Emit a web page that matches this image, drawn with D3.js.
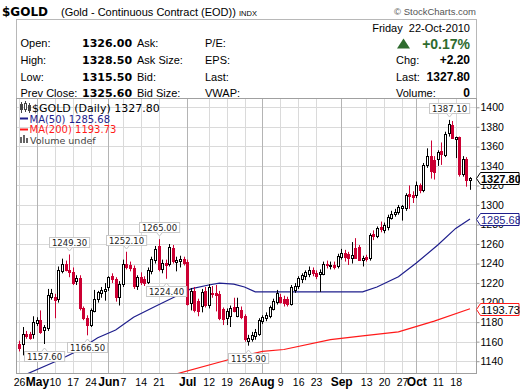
<!DOCTYPE html>
<html>
<head>
<meta charset="utf-8">
<script src="https://cdn.jsdelivr.net/npm/d3@7"></script>
<style>
  body { margin: 0; background: #fff; }
  svg { display: block; }
</style>
</head>
<body>
<svg id="chart" width="520" height="391"></svg>
<script>
// ---- data: $GOLD daily, 26-Apr-2010 .. 22-Oct-2010 ----
const firstDay = '2010-04-26', lastDay = '2010-10-22';
const holidays = ['2010-05-31', '2010-07-05', '2010-09-06'];

const open = [
  1158, 1158, 1168, 1168, 1168, 1179, 1182, 1172, 1174, 1206,
  1206, 1203, 1233, 1240, 1233, 1231, 1222, 1225, 1194, 1184,
  1177, 1192, 1204, 1210, 1212, 1216, 1227, 1224, 1206, 1220,
  1240, 1238, 1235, 1217, 1226, 1224, 1221, 1233, 1244, 1258,
  1235, 1240.5, 1240, 1256, 1242, 1243, 1245, 1242, 1200, 1212,
  1202, 1197, 1212, 1198, 1210, 1210, 1209, 1193, 1184, 1186,
  1196, 1187, 1192, 1186, 1161, 1163, 1166, 1168, 1181, 1184,
  1186, 1194, 1201, 1206, 1204, 1204, 1199, 1213, 1217, 1224,
  1227, 1229, 1233, 1230, 1229, 1230, 1240, 1238, 1239, 1238,
  1247, 1251, 1250, 1246, 1256, 1257, 1244, 1247, 1245, 1270,
  1269, 1277, 1274, 1278, 1287, 1291, 1293, 1296.5, 1297, 1311,
  1310, 1310, 1320, 1315, 1341, 1350, 1346, 1347, 1355, 1351,
  1373, 1382, 1368, 1369.8, 1332, 1347, 1326
];
const high = [
  1161, 1175, 1171, 1170, 1186, 1185, 1192, 1177, 1214, 1214,
  1209, 1237, 1245, 1243, 1249.3, 1236, 1228, 1228, 1196, 1187,
  1194, 1213, 1212, 1216, 1220, 1227, 1230, 1226, 1222, 1244,
  1252.1, 1242, 1238, 1228, 1231, 1227, 1236, 1247, 1258, 1265,
  1244, 1244, 1260, 1259, 1247, 1248, 1247, 1244, 1215, 1216,
  1204, 1214, 1216, 1219, 1217, 1218, 1212, 1195, 1194, 1197,
  1205, 1205, 1196, 1188, 1167, 1170, 1173, 1184, 1187, 1190,
  1197, 1204, 1213, 1209, 1207, 1206, 1218, 1220, 1227, 1230,
  1233, 1237, 1236, 1233, 1234, 1242, 1243, 1242, 1242, 1250,
  1255, 1254, 1252, 1262, 1266, 1259, 1248, 1249, 1271, 1274,
  1278, 1283, 1282, 1290, 1294, 1296, 1300, 1300, 1312, 1320,
  1314, 1324, 1322, 1343, 1358, 1366, 1350, 1356, 1364, 1375,
  1387.1, 1386, 1370, 1370, 1350, 1349, 1328.5
];
const low = [
  1150, 1146, 1163, 1162, 1163, 1176, 1168, 1157.6, 1171, 1203,
  1184, 1200, 1230, 1232, 1226, 1218, 1218, 1192, 1182, 1166.5,
  1175, 1190, 1200, 1205, 1202, 1212, 1220, 1201, 1197, 1216,
  1234, 1232, 1214, 1213, 1218, 1217, 1219, 1229, 1240, 1232,
  1230, 1224.4, 1237, 1240, 1232, 1236, 1238, 1197, 1192, 1190,
  1186, 1190, 1195, 1194, 1205, 1191, 1182, 1177, 1177, 1175,
  1190, 1185, 1183, 1160, 1155.9, 1160, 1162, 1166, 1178, 1181,
  1184, 1192, 1198, 1199, 1196, 1196, 1197, 1210, 1214, 1220,
  1223, 1226, 1227, 1224, 1211, 1228, 1235, 1234, 1234, 1235,
  1244, 1242, 1238.5, 1240, 1245, 1243, 1237, 1242, 1243, 1264,
  1266, 1272, 1271, 1274, 1285, 1288, 1290, 1284, 1294, 1296,
  1302, 1307, 1312, 1313, 1338, 1327, 1326, 1340, 1341, 1349,
  1370, 1368, 1348, 1329, 1329, 1318.7, 1315.5
];
const close = [
  1154, 1168, 1166, 1164, 1180, 1182, 1170, 1175, 1208, 1210,
  1203, 1233, 1240, 1234, 1231, 1220, 1225, 1194, 1184, 1177,
  1192, 1204, 1211, 1213, 1214, 1226, 1224, 1206, 1219, 1240,
  1237, 1235, 1217, 1226, 1221, 1220, 1233, 1245, 1255, 1234,
  1241, 1238.5, 1257, 1243, 1244, 1245, 1241, 1199, 1212, 1193,
  1192, 1211, 1198, 1216, 1209, 1208, 1184, 1183, 1191, 1194,
  1192, 1196, 1185, 1162, 1164, 1167, 1170, 1182, 1185, 1187,
  1195, 1202, 1210, 1201, 1200, 1198.6, 1216, 1217, 1225, 1228,
  1231, 1233, 1230, 1227, 1231, 1240, 1238.5, 1239, 1237, 1248,
  1251, 1247, 1246, 1249, 1246, 1244, 1246, 1245, 1269, 1268,
  1276.7, 1275, 1279, 1288, 1291, 1293, 1298, 1298.5, 1310, 1309,
  1308, 1320, 1315, 1341, 1350, 1335, 1334, 1354, 1352, 1373,
  1382.5, 1369, 1370, 1332.3, 1347, 1325.6, 1327.8
];

// moving averages, read at sample days (day index into the series)
const ma50Day = [1, 11, 16, 22, 27, 32, 38, 43, 48, 53, 56, 60, 63, 66, 96, 100, 106, 111, 117, 122, 126];
const ma50 = [1125, 1141, 1150, 1164, 1172, 1185, 1196, 1205, 1214, 1218, 1220, 1219, 1216, 1211, 1211, 1216, 1226.5, 1240.5, 1259, 1276, 1285.68];
const ma200Day = [44, 60, 68, 74, 87, 96, 106, 116, 126];
const ma200 = [1127, 1143, 1150, 1152, 1162, 1166, 1170, 1181, 1193.73];

// swing high / low call-outs
const noteDay = [7, 14, 19, 30, 39, 41, 64, 120];
const noteKind = ['L', 'H', 'L', 'H', 'H', 'L', 'L', 'H'];

// x axis ticks
const tickDates = ['2010-04-26', '2010-05-03', '2010-05-10', '2010-05-17', '2010-05-24', '2010-06-01', '2010-06-07',
  '2010-06-14', '2010-06-21', '2010-07-01', '2010-07-12', '2010-07-19', '2010-07-26', '2010-08-02', '2010-08-09',
  '2010-08-16', '2010-08-23', '2010-09-01', '2010-09-13', '2010-09-20', '2010-09-27', '2010-10-01', '2010-10-11', '2010-10-18'];
const tickLabels = ['26', 'May', '10', '17', '24', 'Jun', '7', '14', '21', 'Jul', '12', '19', '26', 'Aug', '9',
  '16', '23', 'Sep', '13', '20', '27', 'Oct', '11', '18'];
const yTicks = d3.range(1140, 1401, 20);

// quote box
const quoteRows = [
  ['Open:', '1326.00', 'Ask:', 'P/E:'],
  ['High:', '1328.50', 'Ask Size:', 'EPS:'],
  ['Low:', '1315.50', 'Bid:', 'Last:'],
  ['Prev Close:', '1325.60', 'Bid Size:', 'VWAP:']
];
const quoteRight = [['Chg:', '+2.20'], ['Last:', '1327.80'], ['Volume:', '0']];

// ---- setup ----
const RED = '#cc0033', NAVY = '#1e1e8c', MARED = '#ff1a1a', GREEN = '#2e6b2e';
const SANS = "'Liberation Sans', Arial, sans-serif";
const VER = "'DejaVu Sans', Verdana, sans-serif";

const fmt = d3.timeFormat('%Y-%m-%d');
const days = d3.timeDay.range(d3.timeParse('%Y-%m-%d')(firstDay), d3.timeDay.offset(d3.timeParse('%Y-%m-%d')(lastDay), 1))
  .filter(d => d.getDay() > 0 && d.getDay() < 6 && !holidays.includes(fmt(d)));

const svg = d3.select('#chart');
const L = 16.5, R = 476.5, T = 98.5, B = 373.5;

const x = d3.scaleLinear().domain([0, days.length - 1]).range([19, 470]);
const y = d3.scaleLinear().domain([1140, 1400]).range([361.2, 107.3]);
const px = i => Math.round(x(i));

// ---- header ----
svg.append('text').attr('x', 2).attr('y', 15.5)
  .attr('font-family', VER).attr('font-weight', 'bold').attr('font-size', 12).text('$GOLD');
svg.append('text').attr('x', 61).attr('y', 15.5)
  .attr('font-family', SANS).attr('font-size', 11).text('(Gold - Continuous Contract (EOD))');
svg.append('text').attr('x', 239).attr('y', 15.5)
  .attr('font-family', SANS).attr('font-size', 7.5).text('INDX');
svg.append('text').attr('x', 476).attr('y', 15).attr('text-anchor', 'end')
  .attr('font-family', SANS).attr('font-size', 9.5).attr('fill', '#555').text('\u00a9 StockCharts.com');

svg.append('rect').attr('x', L).attr('y', 19.5).attr('width', R - L).attr('height', T - 19.5)
  .attr('fill', 'none').attr('stroke', '#b8b8b8');

const rowY = [47, 64, 80.5, 97];
quoteRows.forEach((r, k) => {
  svg.append('text').attr('x', 20.5).attr('y', rowY[k]).attr('font-family', SANS).attr('font-size', 11).text(r[0]);
  svg.append('text').attr('x', 82).attr('y', rowY[k]).attr('font-family', VER).attr('font-weight', 'bold').attr('font-size', 11).text(r[1]);
  svg.append('text').attr('x', 137).attr('y', rowY[k]).attr('font-family', SANS).attr('font-size', 11).text(r[2]);
  svg.append('text').attr('x', 205).attr('y', rowY[k]).attr('font-family', SANS).attr('font-size', 11).text(r[3]);
});
svg.append('text').attr('x', 470).attr('y', 31.5).attr('text-anchor', 'end')
  .attr('font-family', SANS).attr('font-size', 11).text('Friday\u00a0\u00a022-Oct-2010');
svg.append('path').attr('d', 'M397,48.5L403.5,38.5L410,48.5Z').attr('fill', GREEN);
svg.append('text').attr('x', 470).attr('y', 48.5).attr('text-anchor', 'end')
  .attr('font-family', SANS).attr('font-weight', 'bold').attr('font-size', 14).attr('fill', GREEN).text('+0.17%');
quoteRight.forEach((r, k) => {
  svg.append('text').attr('x', 396).attr('y', rowY[k + 1]).attr('font-family', SANS).attr('font-size', 11).text(r[0]);
  svg.append('text').attr('x', 470).attr('y', rowY[k + 1]).attr('text-anchor', 'end')
    .attr('font-family', SANS).attr('font-weight', 'bold').attr('font-size', 12).text(r[1]);
});

// ---- grid ----
const tickIdx = tickDates.map(t => days.findIndex(d => fmt(d) === t));
const isMonth = l => isNaN(+l);

const grid = svg.append('g');
grid.selectAll('line.h').data(yTicks).join('line')
  .attr('x1', L).attr('x2', R)
  .attr('y1', d => Math.round(y(d)) + 0.5).attr('y2', d => Math.round(y(d)) + 0.5)
  .attr('stroke', '#dadada');
grid.selectAll('line.v').data(tickIdx).join('line')
  .attr('x1', d => px(d) + 0.5).attr('x2', d => px(d) + 0.5)
  .attr('y1', T).attr('y2', B)
  .attr('stroke', (d, k) => isMonth(tickLabels[k]) ? '#b4b4b4' : '#dadada');

svg.append('rect').attr('x', L).attr('y', T).attr('width', R - L).attr('height', B - T)
  .attr('fill', 'none').attr('stroke', '#a0a0a0');

svg.append('clipPath').attr('id', 'plotclip')
  .append('rect').attr('x', L + 0.5).attr('y', T + 0.5).attr('width', R - L - 1).attr('height', B - T - 1);
const plot = svg.append('g').attr('clip-path', 'url(#plotclip)');

// ---- moving averages ----
const line = d3.line().x(d => x(d[0])).y(d => y(d[1]));
plot.append('path').datum(d3.zip(ma200Day, ma200)).attr('d', line)
  .attr('fill', 'none').attr('stroke', MARED).attr('stroke-width', 1.2);
plot.append('path').datum(d3.zip(ma50Day, ma50)).attr('d', line)
  .attr('fill', 'none').attr('stroke', NAVY).attr('stroke-width', 1.2);

// ---- candles ----
const idx = d3.range(days.length);
const colorOf = i => close[i] >= (i ? close[i - 1] : open[i]) ? '#000' : RED;
const candles = plot.append('g').selectAll('g').data(idx).join('g');
candles.append('line')
  .attr('x1', i => px(i) + 0.5).attr('x2', i => px(i) + 0.5)
  .attr('y1', i => y(high[i])).attr('y2', i => y(low[i]))
  .attr('stroke', colorOf);
candles.append('rect')
  .attr('x', i => px(i) - 0.5).attr('width', 2)
  .attr('y', i => Math.round(y(Math.max(open[i], close[i]))) + 0.5)
  .attr('height', i => Math.max(1, Math.round(Math.abs(y(open[i]) - y(close[i])))))
  .attr('fill', i => close[i] > open[i] ? '#fff' : colorOf(i))
  .attr('stroke', colorOf);

// ---- swing call-outs ----
const notes = plot.append('g');
noteDay.forEach((i, k) => {
  const hi = noteKind[k] === 'H';
  const v = hi ? high[i] : low[i];
  const cx = px(i) + 0.5;
  const t = notes.append('text').attr('font-family', VER).attr('font-size', 8.5).attr('fill', '#222')
    .attr('text-anchor', 'middle').text(v.toFixed(2));
  const w = t.node().getComputedTextLength() + 5, h = 10;
  const top = hi ? Math.round(y(v)) - 7 - h : Math.round(y(v)) + 7;
  const bx = Math.round(cx - w / 2) + 0.5, by = top + 0.5;
  const tip = hi ? `M${cx - 3},${by + h}L${cx},${by + h + 3.5}L${cx + 3},${by + h}`
                 : `M${cx - 3},${by}L${cx},${by - 3.5}L${cx + 3},${by}`;
  notes.insert('rect', 'text').attr('x', bx).attr('y', by).attr('width', w).attr('height', h)
    .attr('fill', '#fff').attr('stroke', '#c8c8c8');
  notes.insert('path', 'text').attr('d', tip).attr('fill', '#fff').attr('stroke', '#c8c8c8');
  t.attr('x', cx).attr('y', by + h - 2);
});

// ---- legend ----
const leg = svg.append('g');
[[21, 1103, 1108], [25, 1101, 1110], [29, 1104, 1109]].forEach(() => {});
leg.append('path').attr('d', 'M21.5,102V113M25.5,101V112M29.5,103V113').attr('stroke', '#444');
leg.append('rect').attr('x', 20.5).attr('y', 104.5).attr('width', 2).attr('height', 5).attr('fill', '#444').attr('stroke', '#444');
leg.append('rect').attr('x', 24.5).attr('y', 103.5).attr('width', 2).attr('height', 6).attr('fill', '#fff').attr('stroke', '#444');
leg.append('rect').attr('x', 28.5).attr('y', 105.5).attr('width', 2).attr('height', 5).attr('fill', '#444').attr('stroke', '#444');
leg.append('text').attr('x', 32).attr('y', 111.5).attr('font-family', VER).attr('font-size', 11)
  .text('$GOLD (Daily) 1327.80');
leg.append('line').attr('x1', 20).attr('x2', 28).attr('y1', 118.5).attr('y2', 118.5).attr('stroke', NAVY).attr('stroke-width', 2);
leg.append('text').attr('x', 29.5).attr('y', 122.5).attr('font-family', VER).attr('font-size', 10).attr('fill', NAVY)
  .text('MA(50) 1285.68');
leg.append('line').attr('x1', 20).attr('x2', 28).attr('y1', 129.5).attr('y2', 129.5).attr('stroke', MARED).attr('stroke-width', 2);
leg.append('text').attr('x', 29.5).attr('y', 133).attr('font-family', VER).attr('font-size', 10).attr('fill', MARED)
  .text('MA(200) 1193.73');
leg.append('path').attr('d', 'M20,143V137h2V143M23,143V135h2V143M26,143V138h2V143Z').attr('fill', '#666');
leg.append('text').attr('x', 30).attr('y', 143.5).attr('font-family', VER).attr('font-size', 9.5).attr('fill', '#444')
  .text('Volume undef');

// ---- axes ----
svg.append('g').attr('transform', `translate(${R},0)`)
  .call(d3.axisRight(y).tickValues(yTicks).tickSize(3).tickPadding(1).tickFormat(d3.format('d')))
  .call(g => g.select('.domain').remove())
  .call(g => g.selectAll('line').attr('stroke', '#999'))
  .call(g => g.selectAll('text').attr('font-family', SANS).attr('font-size', 10.5).attr('fill', '#000'));

svg.append('g').attr('transform', `translate(0,${B})`)
  .call(d3.axisBottom(x).tickValues(tickIdx).tickSize(0).tickFormat((d, k) => tickLabels[k]))
  .call(g => g.select('.domain').remove())
  .call(g => g.selectAll('text')
    .attr('y', 12.5).attr('dy', null).attr('fill', '#000')
    .attr('font-family', SANS)
    .attr('font-weight', (d, k) => isMonth(tickLabels[k]) ? 'bold' : 'normal')
    .attr('font-size', (d, k) => isMonth(tickLabels[k]) ? 12 : 10.5));

// ---- last-value tags on the price axis ----
const tags = [
  {v: close[close.length - 1], stroke: '#000', fill: '#000', bold: true},
  {v: ma50[ma50.length - 1], stroke: NAVY, fill: NAVY, bold: false},
  {v: ma200[ma200.length - 1], stroke: MARED, fill: '#000', bold: false}
];
tags.forEach(t => {
  const cy = Math.round(y(t.v)) + 0.5;
  svg.append('path').attr('d', `M${R},${cy}L${R + 4},${cy - 6}H519V${cy + 6}H${R + 4}Z`)
    .attr('fill', '#fff').attr('stroke', t.stroke);
  svg.append('text').attr('x', R + 4.5).attr('y', cy + 4)
    .attr('font-family', SANS).attr('font-size', 11).attr('font-weight', t.bold ? 'bold' : 'normal')
    .attr('fill', t.fill).text(t.v.toFixed(2));
});
</script>
</body>
</html>
